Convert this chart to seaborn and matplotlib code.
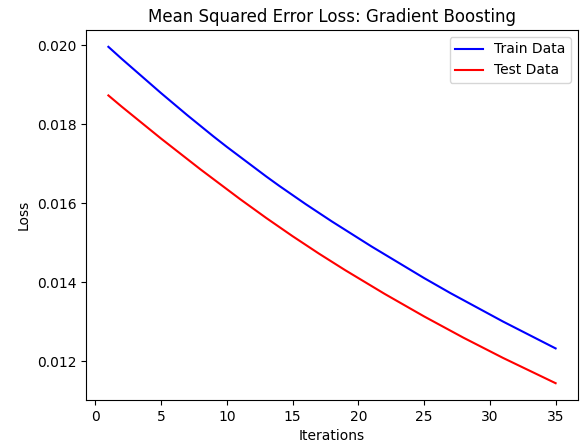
import matplotlib
matplotlib.use("Agg")
import matplotlib.pyplot as plt
import seaborn as sns
import pandas as pd

iterations = list(range(1, 36))

train_loss = [
    0.01996, 0.01966, 0.01937, 0.01908, 0.01879, 0.01851, 0.01823, 0.01796,
    0.01769, 0.01743, 0.01718, 0.01693, 0.01668, 0.01644, 0.01621, 0.01598,
    0.01576, 0.01554, 0.01533, 0.01512, 0.01491, 0.01471, 0.01451, 0.01431,
    0.01411, 0.01392, 0.01373, 0.01355, 0.01337, 0.01319, 0.01301, 0.01284,
    0.01267, 0.01250, 0.01233,
]

test_loss = [
    0.01873, 0.01845, 0.01818, 0.01791, 0.01764, 0.01738, 0.01712, 0.01686,
    0.01661, 0.01636, 0.01611, 0.01587, 0.01563, 0.01540, 0.01517, 0.01495,
    0.01473, 0.01452, 0.01431, 0.01411, 0.01391, 0.01371, 0.01352, 0.01333,
    0.01314, 0.01296, 0.01278, 0.01260, 0.01243, 0.01226, 0.01209, 0.01193,
    0.01177, 0.01161, 0.01145,
]

series_names = ["Train Data", "Test Data"]
series_colors = ["blue", "red"]

df = pd.DataFrame({
    "Iterations": iterations * 2,
    "Loss": train_loss + test_loss,
    "Set": [series_names[0]] * len(iterations) + [series_names[1]] * len(iterations),
})

fig = plt.figure(figsize=(5.86, 4.47), dpi=100)
ax = fig.add_axes([0.1468, 0.1051, 0.8395, 0.8278])

sns.lineplot(
    data=df, x="Iterations", y="Loss", hue="Set",
    palette=dict(zip(series_names, series_colors)),
    linewidth=1.5, ax=ax,
)

ax.set_title("Mean Squared Error Loss: Gradient Boosting", fontsize=12)
ax.set_xlabel("Iterations")
ax.set_ylabel("Loss")
ax.set_xticks([0, 5, 10, 15, 20, 25, 30, 35])
ax.set_yticks([0.012, 0.014, 0.016, 0.018, 0.020])
ax.set_yticklabels(["0.012", "0.014", "0.016", "0.018", "0.020"])
ax.legend(loc="upper right", title=None)

fig.savefig("out.png", dpi=100)
